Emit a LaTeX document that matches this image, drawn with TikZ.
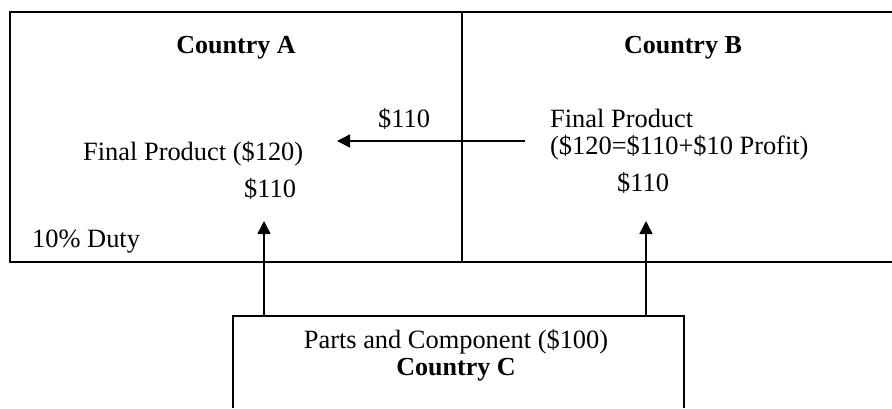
\documentclass[tikz,border=0pt]{standalone}
\usepackage{fontspec}
\setmainfont{Liberation Serif}
\usetikzlibrary{arrows.meta}
\begin{document}
\begin{tikzpicture}[x=1pt,y=-1pt,
  frame/.style={line width=1.6pt},
  flow/.style={line width=1.6pt,-{Triangle[length=13pt,width=13pt]}},
  lbl/.style={inner sep=0pt,font=\fontsize{26.4}{30}\selectfont},
  hd/.style={lbl,font=\fontsize{26}{30}\selectfont\bfseries}]
\useasboundingbox (0,0) rectangle (892,408);
% outer frame (extends past the right edge)
\draw[frame] (892,12) -- (10,12) -- (10,262) -- (892,262);
\draw[frame] (462,12) -- (462,262);
% box of country C (extends past the bottom edge)
\draw[frame] (233,408) -- (233,316) -- (684,316) -- (684,408);
% texts
\node[hd,anchor=base] (ca) at (236,53) {Country A};
\node[hd,anchor=base] (cb) at (683,53) {Country B};
\node[lbl,anchor=base west] (p1) at (378,127) {\$110};
\node[lbl,anchor=base west] (fa) at (83,160) {Final Product (\$120)};
\node[lbl,anchor=base west] (p2) at (244,197) {\$110};
\node[lbl,anchor=base west] (duty) at (32,247) {10\% Duty};
\node[lbl,anchor=base west] (fb1) at (550,127) {Final Product};
\node[lbl,anchor=base west] (fb2) at (550,154) {(\$120=\$110+\$10 Profit)};
\node[lbl,anchor=base west] (p3) at (617,191) {\$110};
\node[lbl,anchor=base] (pc) at (456,348) {Parts and Component (\$100)};
\node[hd,anchor=base] (cc) at (456,375) {Country C};
% connector end points
\coordinate (hs) at (525,141);
\coordinate (he) at (337,141);
\coordinate (ls) at (264,316);
\coordinate (le) at (264,221);
\coordinate (rs) at (646,316);
\coordinate (re) at (646,221);
\draw[flow] (hs) -- (he);
\draw[flow] (ls) -- (le);
\draw[flow] (rs) -- (re);
\end{tikzpicture}
\end{document}
